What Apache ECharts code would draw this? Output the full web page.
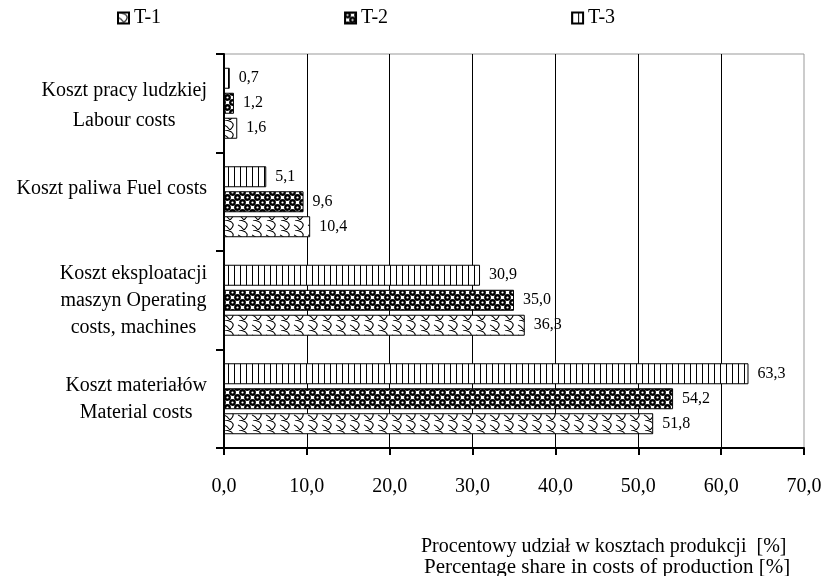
<!DOCTYPE html>
<html>
<head>
<meta charset="utf-8">
<script src="https://cdn.jsdelivr.net/npm/echarts@6/dist/echarts.min.js"></script>
<style>html,body{margin:0;padding:0;background:#fff;}#chart{width:827px;height:576px;}</style>
</head>
<body>
<div id="chart"></div>
<script>
// ---- data ----
const categories = [
  ['Koszt materiałów', 'Material costs'],
  ['Koszt eksploatacji', 'maszyn Operating', 'costs, machines'],
  ['Koszt paliwa Fuel costs'],
  ['Koszt pracy ludzkiej', 'Labour costs']
];
const seriesNames = ['T-1', 'T-2', 'T-3'];
const t1Values = [51.8, 36.3, 10.4, 1.6];
const t2Values = [54.2, 35.0, 9.6, 1.2];
const t3Values = [63.3, 30.9, 5.1, 0.7];
const xTicks = [0, 10, 20, 30, 40, 50, 60, 70];
const axisTitleLines = ['Procentowy udział w kosztach produkcji  [%]', 'Percentage share in costs of production [%]'];

// ---- patterns ----
function makePattern(type) {
  const c = document.createElement('canvas');
  const ctx = c.getContext('2d');
  if (type === 'stripes') {
    c.width = 6; c.height = 6;
    ctx.fillStyle = '#fff'; ctx.fillRect(0, 0, 6, 6);
    ctx.fillStyle = '#000'; ctx.fillRect(0, 0, 1, 6);
  } else if (type === 'dots') {
    c.width = 10; c.height = 10;
    ctx.fillStyle = '#fff'; ctx.fillRect(0, 0, 10, 10);
    const centers = [[2.5, 2.5], [7.5, 7.5]];
    ctx.fillStyle = '#000';
    for (const [x, y] of centers) {
      for (const dx of [-10, 0, 10]) for (const dy of [-10, 0, 10]) {
        ctx.beginPath(); ctx.arc(x + dx, y + dy, 3.4, 0, Math.PI * 2); ctx.fill();
      }
    }
    ctx.fillStyle = '#fff';
    for (const [x, y] of centers) { ctx.beginPath(); ctx.arc(x, y, 1.1, 0, Math.PI * 2); ctx.fill(); }
  } else {
    c.width = 14; c.height = 10;
    ctx.fillStyle = '#fff'; ctx.fillRect(0, 0, 14, 10);
    ctx.strokeStyle = '#000'; ctx.lineWidth = 1.1;
    for (const dx of [-14, 0, 14]) {
      ctx.beginPath();
      ctx.moveTo(1 + dx, 0);
      ctx.bezierCurveTo(9 + dx, 1, 12 + dx, 5, 6 + dx, 10);
      ctx.stroke();
      ctx.beginPath();
      ctx.moveTo(6 + dx, 10);
      ctx.quadraticCurveTo(3 + dx, 6, 0 + dx, 5);
      ctx.stroke();
    }
  }
  return { image: c, repeat: 'repeat' };
}
const patterns = { 'T-1': makePattern('waves'), 'T-2': makePattern('dots'), 'T-3': makePattern('stripes') };
const valuesByName = { 'T-1': t1Values, 'T-2': t2Values, 'T-3': t3Values };

const fmt = v => v.toFixed(1).replace('.', ',');
const FONT = '"Liberation Serif", "Times New Roman", serif';

// first series drawn at the top of each group -> reverse order
const series = seriesNames.slice().reverse().map(name => ({
  name: name,
  type: 'bar',
  data: valuesByName[name],
  barWidth: 21,
  barGap: '19%',
  itemStyle: { color: patterns[name], borderColor: '#000', borderWidth: 1 },
  label: {
    show: true, position: 'right', distance: 9,
    formatter: p => fmt(p.value),
    fontFamily: FONT, fontSize: 16, color: '#000'
  }
}));

const chart = echarts.init(document.getElementById('chart'), null, { renderer: 'canvas' });
chart.setOption({
  backgroundColor: '#fff',
  animation: false,
  textStyle: { fontFamily: FONT, color: '#000' },
  legend: {
    data: seriesNames,
    left: 112, top: 3,
    icon: 'rect', itemWidth: 11, itemHeight: 11, itemGap: 183,
    textStyle: { fontFamily: FONT, fontSize: 20, color: '#000' }
  },
  grid: { left: 224, right: 23, top: 54, bottom: 128, show: true, borderColor: '#999', borderWidth: 1, containLabel: false, outerBoundsMode: 'none' },
  xAxis: {
    type: 'value', min: xTicks[0], max: xTicks[xTicks.length - 1], interval: 10,
    axisLine: { show: true, lineStyle: { color: '#000', width: 2 } },
    axisTick: { show: true, length: 7, lineStyle: { color: '#000', width: 2 } },
    axisLabel: { formatter: v => fmt(v), fontFamily: FONT, fontSize: 20, color: '#000', margin: 29 },
    splitLine: { show: true, showMinLine: false, showMaxLine: false, lineStyle: { color: '#000', width: 1 } }
  },
  yAxis: {
    type: 'category',
    data: categories.map(c => c.join('\n')),
    axisLine: { show: true, lineStyle: { color: '#000', width: 2 } },
    axisTick: { show: true, length: 8, lineStyle: { color: '#000', width: 2 } },
    splitLine: { show: false },
    axisLabel: {
      margin: 17,
      formatter: (v, i) => {
        const lines = categories[i];
        const style = i === categories.length - 1 ? 'w' : 'c';
        const out = lines.map(l => '{' + style + '|' + l + '}');
        if (lines.length === 1) out.push('{c| }');
        return out.join('\n');
      },
      rich: {
        c: { fontFamily: FONT, fontSize: 20, color: '#000', align: 'center', lineHeight: 27 },
        w: { fontFamily: FONT, fontSize: 20, color: '#000', align: 'center', lineHeight: 30, padding: [5, 0, 0, 0] }
      }
    }
  },
  graphic: [
    { type: 'text', left: 421, top: 537, style: { text: axisTitleLines[0], font: '20px ' + FONT, fill: '#000' } },
    { type: 'text', left: 424, top: 557, style: { text: axisTitleLines[1], font: '21px ' + FONT, fill: '#000' } }
  ],
  series: series
});
</script>
</body>
</html>
